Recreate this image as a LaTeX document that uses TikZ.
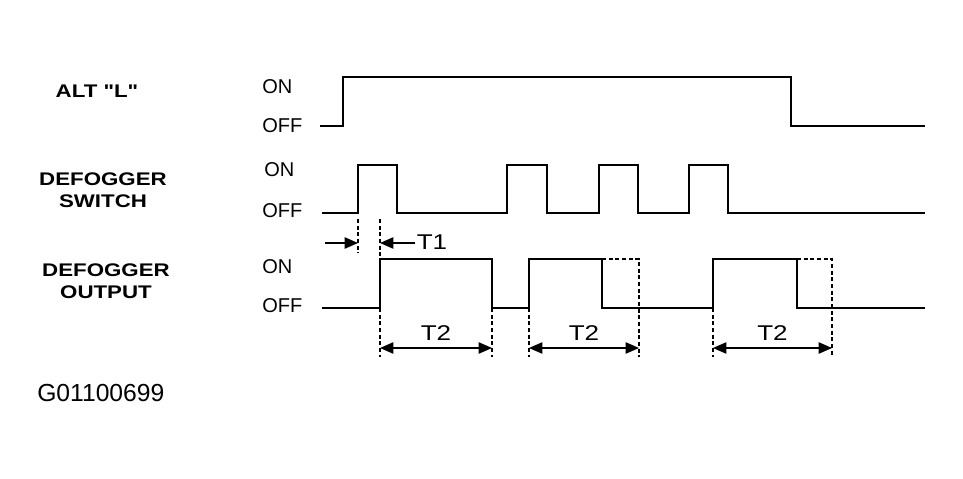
\documentclass[tikz,border=0pt]{standalone}
\usepackage{fontspec}
\setmainfont{Liberation Sans}
\newfontfamily\widefont[FakeStretch=1.22]{Liberation Sans}
\usetikzlibrary{arrows.meta,positioning}

\tikzset{
    wave/.style={line width=1.6pt, line join=miter},
    guide/.style={line width=0.9pt, dash pattern=on 3pt off 2pt},
    dimarrow/.style={line width=1pt, -{Triangle[length=10pt,width=8.5pt]}},
    dimboth/.style={line width=1pt, {Triangle[length=10pt,width=8.5pt]}-{Triangle[length=10pt,width=8.5pt]}},
    sig/.style={font=\widefont\bfseries\fontsize{13.7}{16.5}\selectfont, align=center, inner sep=0pt},
    lvl/.style={font=\fontsize{15}{17}\selectfont, anchor=west, inner sep=0pt},
    tlbl/.style={font=\widefont\fontsize{16}{18}\selectfont, inner sep=0pt}
}

\begin{document}
\begin{tikzpicture}[x=0.75pt,y=-0.75pt]
    \useasboundingbox (0,0) rectangle (963,478);

    % signal names on the left
    \node[sig] (altlbl) at (97,91) {ALT "L"};
    \node[sig] (swlbl) at (103,190) {DEFOGGER\\SWITCH};
    \node[sig] (outlbl) at (106,281) {DEFOGGER\\OUTPUT};

    % ON/OFF levels
    \node[lvl] (alton) at (262,87) {ON};
    \node[lvl] (altoff) at (262,126) {OFF};
    \node[lvl] (swon) at (264,170) {ON};
    \node[lvl] (swoff) at (262,211) {OFF};
    \node[lvl] (outon) at (262,267) {ON};
    \node[lvl] (outoff) at (262,306) {OFF};

    % ALT "L" signal
    \draw[wave] (320,126) -- (343,126) -- (343,77) -- (791,77) -- (791,126) -- (925,126);

    % defogger switch, four pushes
    \draw[wave] (322,213) -- (358,213) -- (358,165) -- (397,165) -- (397,213)
        -- (507,213) -- (507,165) -- (547,165) -- (547,213)
        -- (599,213) -- (599,165) -- (638,165) -- (638,213)
        -- (689,213) -- (689,165) -- (728,165) -- (728,213) -- (925,213);

    % defogger output
    \draw[wave] (322,308) -- (380,308) -- (380,259) -- (492,259) -- (492,308)
        -- (529,308) -- (529,259) -- (602,259) -- (602,308)
        -- (713,308) -- (713,259) -- (797,259) -- (797,308) -- (925,308);

    % cut-off ON time, dashed
    \draw[guide] (602,259) -- (639,259) -- (639,357);
    \draw[guide] (797,259) -- (832,259) -- (832,357);

    % T1 delay
    \draw[guide] (358,219) -- (358,253);
    \draw[guide] (380,219) -- (380,259);
    \coordinate (t1in) at (325,243);
    \coordinate (t1l) at (358,243);
    \coordinate (t1r) at (380,243);
    \coordinate (t1out) at (415,243);
    \draw[dimarrow] (t1in) -- (t1l);
    \draw[dimarrow] (t1out) -- (t1r);
    \node[tlbl] (t1) at (432,242) {T1};

    % T2 timer
    \foreach \x in {380,492,529,713}
        \draw[guide] (\x,308) -- (\x,357);
    \coordinate (t2a) at (380,348);
    \coordinate (t2b) at (492,348);
    \coordinate (t2c) at (529,348);
    \coordinate (t2d) at (639,348);
    \coordinate (t2e) at (713,348);
    \coordinate (t2f) at (832,348);
    \draw[dimboth] (t2a) -- node[tlbl, above=5pt] (t2ab) {T2} (t2b);
    \draw[dimboth] (t2c) -- node[tlbl, above=5pt] (t2cd) {T2} (t2d);
    \draw[dimboth] (t2e) -- node[tlbl, above=5pt] (t2ef) {T2} (t2f);

    % figure number
    \node[anchor=west, inner sep=0pt, font=\fontsize{18.5}{20}\selectfont] (fig) at (37,393) {G01100699};
\end{tikzpicture}
\end{document}
